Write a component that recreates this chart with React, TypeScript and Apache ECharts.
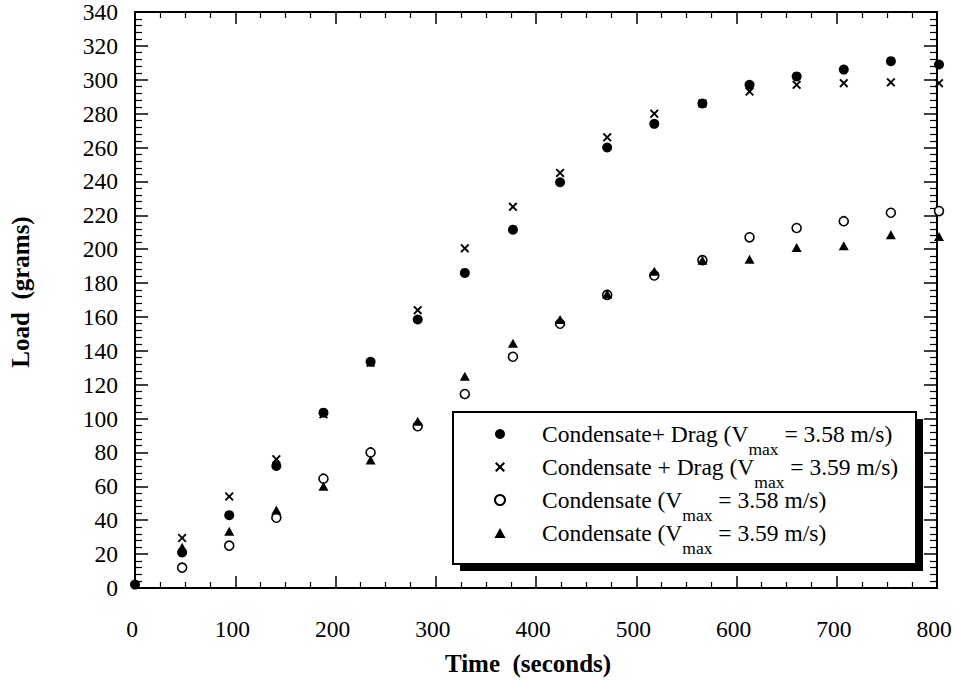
import React, { useEffect, useRef } from "react";
import * as echarts from "echarts";

// ---- data ----
const timeSeconds = [0, 47, 94, 141, 188, 235, 282, 329, 377, 424, 471, 518, 566, 613, 660, 707, 754, 802];
const dragLoadA = [2, 21, 43, 72, 103.5, 133.5, 158.5, 186, 211.5, 239.5, 260, 274, 286, 297, 302, 306, 311, 309];
const dragLoadB = [null, 29.5, 54, 76, 102.5, 133, 164, 200.5, 225, 245, 266, 280, 286, 293, 297, 298, 298.5, 298];
const condLoadA = [null, 12, 25, 41.5, 64.5, 80, 95.5, 114.5, 136.5, 156, 173, 184.5, 193.5, 207, 212.5, 216.5, 221.5, 222.5];
const condLoadB = [null, 24, 33.5, 46, 60, 75.5, 98.5, 125, 144.5, 158.5, 173.5, 187, 193.5, 194, 201, 202, 208.5, 207.5];
const seriesNames = [
  "Condensate+ Drag (Vmax = 3.58 m/s)",
  "Condensate + Drag (Vmax = 3.59 m/s)",
  "Condensate (Vmax = 3.58 m/s)",
  "Condensate (Vmax = 3.59 m/s)",
];
const xAxisTitle = "Time  (seconds)";
const yAxisTitle = "Load  (grams)";

const FONT = "'Liberation Serif', 'Times New Roman', serif";
const CROSS = "path://M0,1.5 L1.5,0 L5,3.5 L8.5,0 L10,1.5 L6.5,5 L10,8.5 L8.5,10 L5,6.5 L1.5,10 L0,8.5 L3.5,5 Z";
const TRIANGLE = "path://M5,0 L10,9 L0,9 Z";

function pairs(vals: (number | null)[]) {
  return timeSeconds.map((t, i) => (vals[i] == null ? null : [t, vals[i]])).filter((p) => p !== null);
}

export default function App() {
  const ref = useRef<HTMLDivElement>(null);
  useEffect(() => {
    if (!ref.current) return;
    const chart = echarts.init(ref.current, undefined, { renderer: "svg" });
    const xBase = {
      type: "value",
      min: 0,
      max: 800,
      interval: 100,
      axisLine: { show: true, onZero: false, lineStyle: { color: "#000", width: 2 } },
      axisTick: { show: true, inside: true, length: 12, lineStyle: { color: "#000", width: 1.5 } },
      minorTick: { show: true, splitNumber: 4, length: 6, lineStyle: { color: "#000", width: 1.2 } },
      splitLine: { show: false },
      minorSplitLine: { show: false },
    };
    const yBase = {
      type: "value",
      min: 0,
      max: 340,
      interval: 20,
      axisLine: { show: true, onZero: false, lineStyle: { color: "#000", width: 2 } },
      axisTick: { show: true, inside: true, length: 13, lineStyle: { color: "#000", width: 1.5 } },
      minorTick: { show: true, splitNumber: 5, length: 7, lineStyle: { color: "#000", width: 1.2 } },
      splitLine: { show: false },
      minorSplitLine: { show: false },
    };
    const option: any = {
      animation: false,
      backgroundColor: "#fff",
      grid: { left: 135, top: 11, width: 802, height: 577, containLabel: false },
      xAxis: [
        {
          ...xBase,
          position: "bottom",
          name: xAxisTitle,
          nameLocation: "middle",
          nameGap: 63,
          nameTextStyle: { fontFamily: FONT, fontSize: 25, fontWeight: "bold", color: "#000", padding: [0, 16, 0, 0] },
          axisLabel: { fontFamily: FONT, fontSize: 23.5, color: "#000", margin: 29, padding: [0, 6, 0, 0] },
        },
        { ...xBase, position: "top", axisLabel: { show: false } },
      ],
      yAxis: [
        {
          ...yBase,
          position: "left",
          name: yAxisTitle,
          nameLocation: "middle",
          nameGap: 102,
          nameRotate: 90,
          nameTextStyle: { fontFamily: FONT, fontSize: 25, fontWeight: "bold", color: "#000", padding: [0, 0, 0, 16] },
          axisLabel: { fontFamily: FONT, fontSize: 23.5, color: "#000", margin: 17, padding: [8, 0, 0, 0] },
        },
        { ...yBase, position: "right", axisLabel: { show: false } },
      ],
      legend: {
        orient: "vertical",
        left: 494,
        top: 422,
        padding: 0,
        itemWidth: 74,
        itemHeight: 10,
        itemGap: -2.5,
        selectedMode: false,
        z: 5,
        data: seriesNames,
        formatter: (name: string) => "{n|" + name.replace("Vmax", "V}{s|max}{n|") + "}",
        textStyle: {
          fontFamily: FONT,
          fontSize: 23.5,
          color: "#000",
          rich: {
            n: { fontFamily: FONT, fontSize: 23.5, lineHeight: 24, color: "#000" },
            s: { fontFamily: FONT, fontSize: 17.5, lineHeight: 24, padding: [14.5, 0, -14.5, 0], color: "#000" },
          },
        },
      },
      graphic: [
        { type: "rect", z: 1, shape: { x: 460, y: 419, width: 463, height: 152 }, style: { fill: "#000" } },
        {
          type: "rect",
          z: 2,
          shape: { x: 453, y: 412, width: 463, height: 152 },
          style: { fill: "#fff", stroke: "#000", lineWidth: 2 },
        },
      ],
      series: [
        {
          name: seriesNames[0],
          type: "scatter",
          symbol: "circle",
          symbolSize: 10,
          clip: false,
          itemStyle: { color: "#000", opacity: 1 },
          data: pairs(dragLoadA),
          z: 3,
        },
        {
          name: seriesNames[1],
          type: "scatter",
          symbol: CROSS,
          symbolSize: 9,
          clip: false,
          itemStyle: { color: "#000", opacity: 1 },
          data: pairs(dragLoadB),
          z: 4,
        },
        {
          name: seriesNames[2],
          type: "scatter",
          symbol: "circle",
          symbolSize: 9,
          clip: false,
          itemStyle: { color: "#fff", borderColor: "#000", borderWidth: 1.6, opacity: 1 },
          data: pairs(condLoadA),
          z: 3,
        },
        {
          name: seriesNames[3],
          type: "scatter",
          symbol: TRIANGLE,
          symbolSize: [10, 9],
          clip: false,
          itemStyle: { color: "#000", opacity: 1 },
          data: pairs(condLoadB),
          z: 4,
        },
      ],
    };
    chart.setOption(option);
    return () => chart.dispose();
  }, []);
  return (
    <div
      ref={ref}
      style={{ position: "fixed", left: 0, top: 0, width: 958, height: 681, background: "#fff" }}
    />
  );
}
